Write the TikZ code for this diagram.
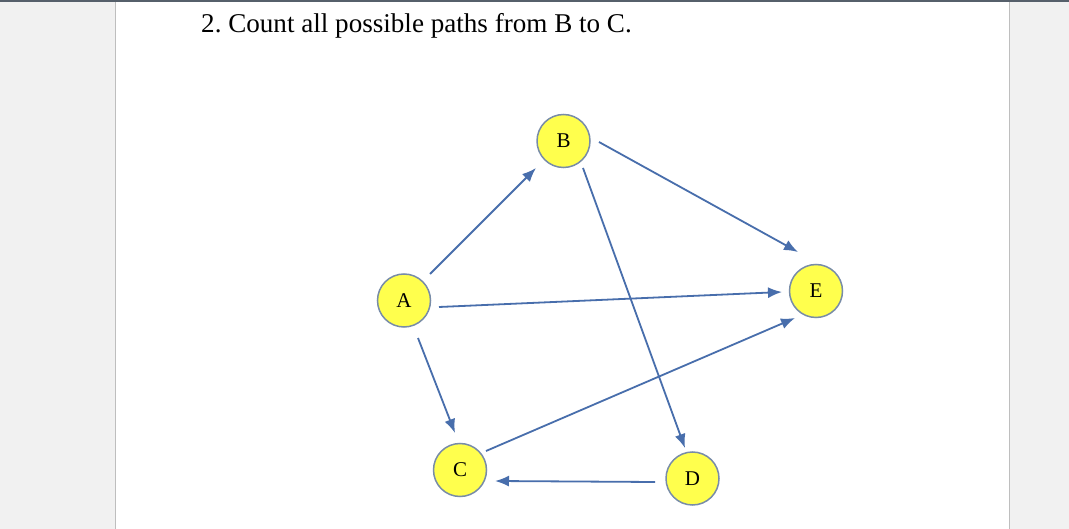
\documentclass[tikz,border=0pt]{standalone}
\usepackage{fontspec}
\setmainfont{Liberation Serif}
\usetikzlibrary{arrows.meta,calc}
\definecolor{edgeblue}{RGB}{72,110,172}
\definecolor{nodefill}{RGB}{255,255,77}
\definecolor{nodeline}{RGB}{120,140,168}
\definecolor{sidegrey}{RGB}{241,241,241}
\definecolor{topbar}{RGB}{86,96,107}
\definecolor{sideline}{RGB}{190,190,190}
\frenchspacing
\begin{document}
\begin{tikzpicture}[x=1pt,y=-1pt,
  vtx/.style={circle,draw=nodeline,fill=nodefill,line width=1.5pt,minimum size=53pt,inner sep=0pt,font=\fontsize{21}{21}\selectfont},
  edge/.style={draw=edgeblue,line width=1.8pt,-{Latex[length=14pt,width=11pt]}}]
\useasboundingbox (0,0) rectangle (1069,529);
\fill[white] (0,0) rectangle (1069,529);
\fill[sidegrey] (0,0) rectangle (115,529);
\fill[sidegrey] (1010,0) rectangle (1069,529);
\draw[sideline,line width=1.2pt] (115.5,0) -- (115.5,529);
\draw[sideline,line width=1.2pt] (1009.5,0) -- (1009.5,529);
\fill[topbar] (0,0) rectangle (1069,2.2);
\node[anchor=base west,inner sep=0pt,font=\fontsize{27.1}{27.1}\selectfont] (title) at (201,33) {2. Count all possible paths from B to C.};
\node[vtx] (B) at (563.5,141) {B};
\node[vtx] (A) at (404,300.5) {A};
\node[vtx] (C) at (460,470) {C};
\node[vtx] (D) at (692.5,478.5) {D};
\node[vtx] (E) at (816,291) {E};
% connector end points, placed relative to their nodes
\coordinate (ab) at ($(A)+(26,-26.5)$);
\coordinate (ba) at ($(B)+(-27.5,27)$);
\coordinate (ae) at ($(A)+(35,6.5)$);
\coordinate (ea) at ($(E)+(-34,1)$);
\coordinate (ac) at ($(A)+(14,37.5)$);
\coordinate (ca) at ($(C)+(-5,-37)$);
\coordinate (be) at ($(B)+(35.5,1)$);
\coordinate (eb) at ($(E)+(-18,-39)$);
\coordinate (bd) at ($(B)+(19.5,27)$);
\coordinate (db) at ($(D)+(-7.5,-30.5)$);
\coordinate (ce) at ($(C)+(26,-19)$);
\coordinate (ec) at ($(E)+(-21,27)$);
\coordinate (dc) at ($(D)+(-37.5,3.5)$);
\coordinate (cd) at ($(C)+(35,11)$);
\draw[edge] (ab) -- (ba);
\draw[edge] (ae) -- (ea);
\draw[edge] (ac) -- (ca);
\draw[edge] (be) -- (eb);
\draw[edge] (bd) -- (db);
\draw[edge] (ce) -- (ec);
\draw[edge] (dc) -- (cd);
\end{tikzpicture}
\end{document}
